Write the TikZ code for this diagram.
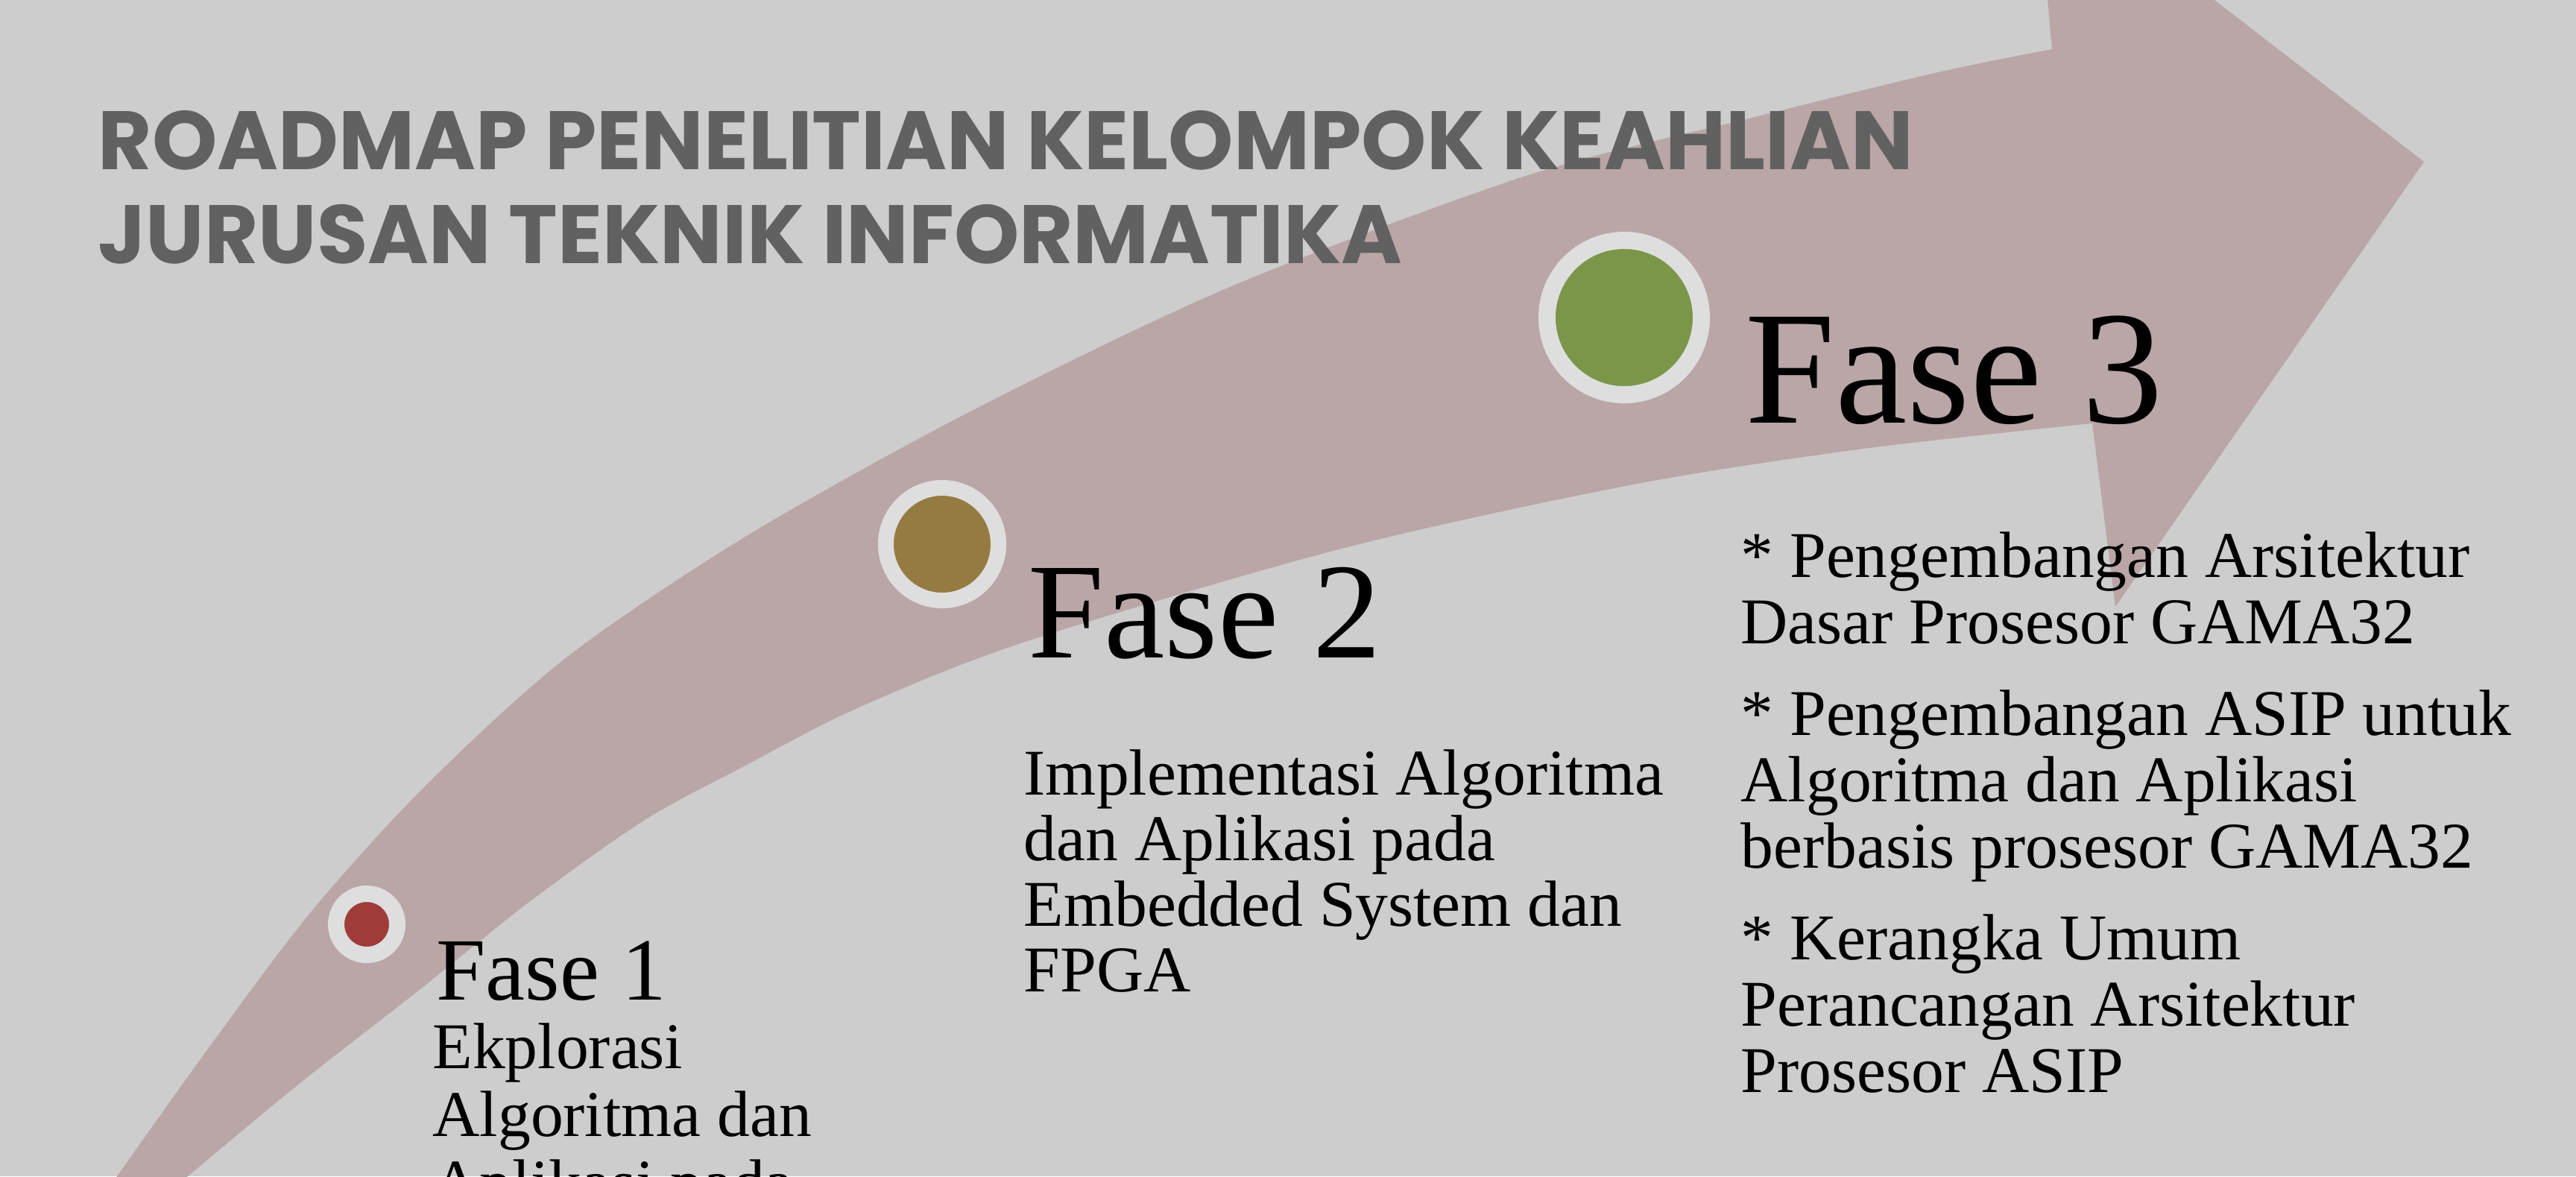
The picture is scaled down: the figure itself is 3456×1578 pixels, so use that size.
\documentclass[tikz,border=0pt]{standalone}
\usepackage{fontspec}
\setmainfont{Liberation Serif}
\newfontfamily\titlefont{Poppins}
\usepackage{xcolor}
\definecolor{pagebg}{HTML}{CDCDCD}
\definecolor{bandfill}{HTML}{BAA6A7}
\definecolor{titlegray}{HTML}{616161}
\definecolor{ringgray}{HTML}{DEDEDE}
\definecolor{dotred}{HTML}{9F3C3A}
\definecolor{dotbrown}{HTML}{957B42}
\definecolor{dotgreen}{HTML}{7B9649}
\usetikzlibrary{positioning}

\begin{document}
\begin{tikzpicture}[
        x=0.01cm, y=-0.01cm,
        title_text/.style={
            anchor=base west,
            inner sep=0pt,
            align=left,
            text=titlegray,
            font=\titlefont\bfseries\fontsize{31.6}{35.6}\selectfont
        },
        phase_head/.style={
            anchor=base west,
            inner sep=0pt,
            text=black
        },
        phase_body/.style={
            anchor=base west,
            inner sep=0pt,
            align=left,
            text=black
        },
        phase_dot/.style={
            circle,
            inner sep=0pt,
            draw=ringgray
        }
    ]
    \useasboundingbox (0,0) rectangle (3456,1578);
    \clip (0,0) rectangle (3456,1578);
    \fill[pagebg] (0,0) rectangle (3456,1578);

    % Roadmap arrow
    \fill[bandfill] plot[smooth] coordinates {(113,1640) (157,1578) (290,1392) (420,1220) (570,1055) (760,882) (1000,720) (1300,553) (1650,385) (2047,236) (2350,158) (2600,97) (2753,66)}
        -- (2730,-186) -- (3252,217) -- (2838,814)
        -- plot[smooth] coordinates {(2807,568) (2500,602) (2191,650) (1800,736) (1378,860) (1150,950) (1000,1027) (865,1100) (710,1210) (560,1330) (400,1455) (252,1578) (179,1640)} -- cycle;

    % Title
    \node[title_text] (title) at (131,353) {ROADMAP PENELITIAN KELOMPOK KEAHLIAN\\JURUSAN TEKNIK INFORMATIKA};

    % Phase dots
    \node[phase_dot, fill=dotred, minimum size=0.82cm, line width=0.22cm] (dot1) at (492,1240) {};
    \node[phase_dot, fill=dotbrown, minimum size=1.51cm, line width=0.21cm] (dot2) at (1264,730) {};
    \node[phase_dot, fill=dotgreen, minimum size=2.07cm, line width=0.23cm] (dot3) at (2179,426) {};

    % Phase headings
    \node[phase_head, font=\fontsize{33.9}{40}\selectfont] (fase1) at (585,1341) {Fase 1};
    \node[phase_head, font=\fontsize{52.1}{60}\selectfont] (fase2) at (1379,882) {Fase 2};
    \node[phase_head, font=\fontsize{61.7}{72}\selectfont] (fase3) at (2341,567) {Fase 3};

    % Phase descriptions (anchored at the last line)
    \node[phase_body, font=\fontsize{24.9}{25.9}\selectfont] (desc1) at (580,1616) {Ekplorasi\\Algoritma dan\\Aplikasi pada};
    \node[phase_body, font=\fontsize{24.9}{25.0}\selectfont] (desc2) at (1373,1330) {Implementasi Algoritma\\dan Aplikasi pada\\Embedded System dan\\FPGA};
    \node[phase_body, font=\fontsize{24.9}{25.3}\selectfont] (desc3) at (2335,1465) {* Pengembangan Arsitektur\\Dasar Prosesor GAMA32\\[0.34cm]* Pengembangan ASIP untuk\\Algoritma dan Aplikasi\\berbasis prosesor GAMA32\\[0.34cm]* Kerangka Umum\\Perancangan Arsitektur\\Prosesor ASIP};

\end{tikzpicture}
\end{document}
